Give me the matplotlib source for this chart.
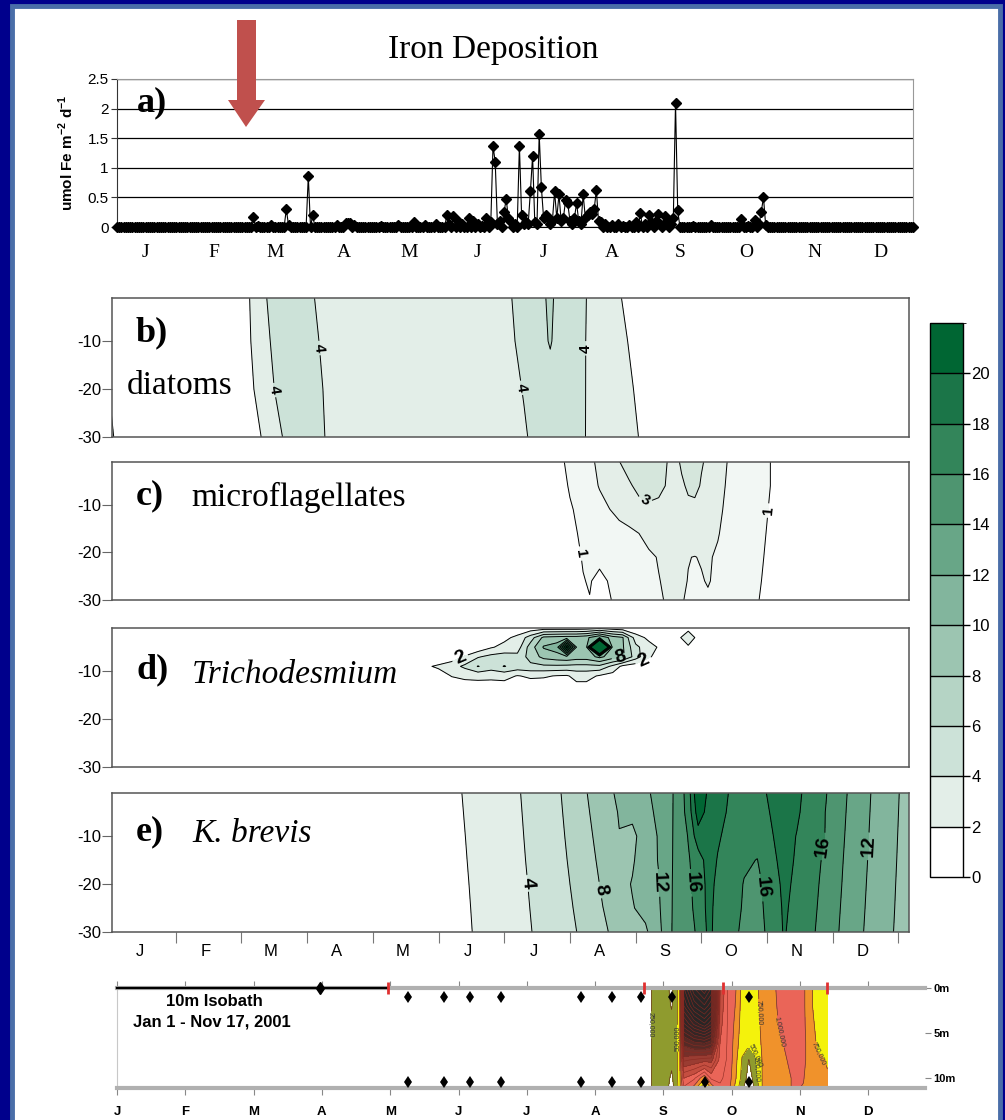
import numpy as np
import matplotlib
matplotlib.use("Agg")
import matplotlib.pyplot as plt
from matplotlib.patches import Rectangle, Polygon
from matplotlib.colors import ListedColormap, BoundaryNorm
from matplotlib.cm import ScalarMappable

plt.rcParams['font.family'] = ['Liberation Sans', 'DejaVu Sans']
plt.rcParams['mathtext.fontset'] = 'custom'
plt.rcParams['mathtext.rm'] = 'Liberation Sans'
plt.rcParams['mathtext.bf'] = 'Liberation Sans:bold'

# ---------------- data ----------------
MONTHS = ['J', 'F', 'M', 'A', 'M', 'J', 'J', 'A', 'S', 'O', 'N', 'D']
MONTH_START_DAY = [0, 31, 59, 90, 120, 151, 181, 212, 243, 273, 304, 334]
N_DAYS = 363

# panel a: iron deposition (day of year, umol Fe m-2 d-1); other days ~0
FE_EVENTS = [(62, 0.17), (64, 0.02), (70, 0.04), (77, 0.30), (78, 0.03), (87, 0.86), (89, 0.20),
             (100, 0.03), (104, 0.06), (105, 0.07), (106, 0.06), (108, 0.03), (120, 0.02),
             (128, 0.03), (135, 0.08), (140, 0.03), (145, 0.05), (150, 0.20), (151, 0.05),
             (153, 0.18), (155, 0.10), (157, 0.05), (160, 0.15), (162, 0.10), (164, 0.05),
             (166, 0.02), (168, 0.15), (170, 0.08), (171, 1.37), (172, 1.10), (173, 0.05),
             (174, 0.10), (176, 0.25), (177, 0.47), (178, 0.15), (179, 0.08), (181, 0.05),
             (183, 1.37), (184, 0.20), (185, 0.05), (186, 0.08), (187, 0.05), (188, 0.60),
             (189, 1.20), (190, 0.08), (191, 0.05), (192, 1.57), (193, 0.67), (194, 0.15),
             (195, 0.20), (196, 0.15), (197, 0.05), (198, 0.10), (199, 0.60), (200, 0.15),
             (201, 0.55), (202, 0.10), (203, 0.15), (204, 0.45), (205, 0.40), (206, 0.10),
             (207, 0.05), (208, 0.15), (209, 0.40), (210, 0.10), (211, 0.05), (212, 0.55),
             (213, 0.15), (214, 0.20), (215, 0.25), (216, 0.22), (217, 0.30), (218, 0.62),
             (219, 0.10), (220, 0.08), (222, 0.05), (225, 0.03), (228, 0.05), (230, 0.02),
             (233, 0.03), (236, 0.08), (238, 0.23), (240, 0.05), (242, 0.20), (243, 0.08),
             (245, 0.10), (246, 0.22), (247, 0.05), (249, 0.18), (250, 0.10), (252, 0.05),
             (253, 0.15), (254, 2.10), (255, 0.28), (262, 0.02), (270, 0.03), (284, 0.13),
             (287, 0.02), (290, 0.12), (292, 0.05), (293, 0.26), (294, 0.50), (295, 0.03)]

# colour scale (cells, colorbar)
CB_LEVELS = [0, 2, 4, 6, 8, 10, 12, 14, 16, 18, 20, 22]
CB_COLORS = ['#FFFFFF', '#E3EEE8', '#CCE2D8', '#B5D4C5', '#9CC5B1', '#82B59D', '#68A687',
             '#4E9570', '#33855A', '#1B7548', '#006633']

# panel b: diatoms, grid x in months, depth rows, values per column (-1, -10, -20, -30)
B_X = [0.0, 0.15, 1.0, 2.0, 2.3, 2.5, 2.7, 3.0, 3.3, 4.5, 5.8, 6.0, 6.3, 6.5, 6.7, 6.85,
       7.1, 7.4, 7.7, 8.1, 9.0, 12.2]
B_DEPTH = [-1, -10, -20, -30]
B_COLS = [[0, 0, 1.8, 2.6], [0, 0, 0.5, 1.0], [0, 0, 0, 0], [1.0, 1.0, 0.8, 0.5],
          [3.4, 3.1, 2.7, 2.0], [4.8, 4.4, 4.0, 3.5], [5.0, 4.9, 4.6, 4.3], [4.3, 4.6, 4.8, 4.9],
          [3.5, 3.6, 3.8, 3.9], [3.0, 3.0, 3.0, 3.0], [3.2, 3.2, 3.1, 3.0], [3.5, 3.4, 3.2, 3.0],
          [4.8, 4.5, 4.1, 3.8], [5.0, 5.0, 4.8, 4.5], [6.5, 6.2, 5.0, 4.8], [5.0, 5.0, 4.9, 4.8],
          [4.8, 4.7, 4.6, 4.5], [3.2, 3.2, 3.3, 3.4], [2.4, 2.8, 3.0, 3.2], [0.5, 1.0, 1.5, 1.8],
          [0, 0, 0, 0], [0, 0, 0, 0]]
B_LABELS = [(4, (2.51, -20.2)), (4, (3.14, -11.5)), (4, (6.23, -19.8)), (4, (7.25, -11.5))]

# panel c: microflagellates
C_X = [0, 6.8, 7.0, 7.2, 7.3, 7.45, 7.6, 7.75, 7.9, 8.05, 8.2, 8.35, 8.5, 8.6, 8.7, 8.8,
       8.9, 9.0, 9.1, 9.25, 9.4, 9.7, 9.95, 10.15, 12.2]
C_DEPTH = [-1, -6, -11, -16, -21, -26, -30]
C_ROWS = [
    [0, 0.6, 1.3, 1.6, 1.8, 2.2, 2.5, 2.98, 3.3, 3.4, 3.4, 3.3, 2.95, 2.8, 3.1, 3.3, 3.3, 3.05, 2.9, 2.5, 1.97, 1.5, 1.2, 0.8, 0],
    [0, 0.5, 1.1, 1.5, 1.7, 2.05, 2.4, 2.6, 2.9, 3.2, 3.3, 3.2, 2.9, 2.7, 2.9, 3.1, 3.15, 2.95, 2.7, 2.3, 1.9, 1.5, 1.15, 0.85, 0],
    [0, 0.4, 0.9, 1.3, 1.5, 1.75, 1.98, 2.25, 2.5, 2.75, 2.85, 2.8, 2.7, 2.65, 2.75, 2.85, 2.85, 2.7, 2.5, 2.2, 1.8, 1.45, 1.1, 0.8, 0],
    [0, 0.3, 0.8, 1.15, 1.3, 1.45, 1.6, 1.7, 1.8, 2.0, 2.3, 2.5, 2.55, 2.5, 2.45, 2.45, 2.5, 2.4, 2.3, 2.05, 1.75, 1.4, 1.05, 0.75, 0],
    [0, 0.2, 0.7, 1.05, 1.15, 1.2, 1.2, 1.4, 1.55, 1.7, 1.85, 2.05, 2.25, 2.2, 2.1, 2.02, 1.98, 2.05, 2.08, 1.9, 1.65, 1.35, 1.0, 0.7, 0],
    [0, 0.2, 0.6, 0.97, 1.05, 0.8, 1.05, 1.3, 1.5, 1.65, 1.8, 1.97, 2.15, 2.15, 2.1, 1.98, 1.8, 1.95, 2.05, 1.85, 1.6, 1.3, 0.95, 0.65, 0],
    [0, 0.2, 0.55, 0.9, 0.98, 0.7, 0.95, 1.2, 1.4, 1.55, 1.7, 1.9, 2.1, 2.15, 2.05, 1.9, 1.6, 1.7, 1.9, 1.75, 1.55, 1.25, 0.9, 0.6, 0],
]
C_LEVELS = [1, 2, 3, 100]
C_COLORS = ['#F2F7F4', '#E4EEE8', '#D5E6DC']
C_LABELS = [(3, (8.14, -9.2)), (1, (7.18, -20.2)), (1, (10.05, -11.25))]

# panel d: Trichodesmium
D_X = [0, 4.6, 4.8, 5.0, 5.2, 5.4, 5.6, 5.8, 6.0, 6.2, 6.4, 6.6, 6.8, 6.95, 7.1, 7.25,
       7.45, 7.65, 7.8, 8.0, 8.2, 8.4, 8.6, 8.8, 9.0, 12.2]
D_DEPTH = [-1, -3, -5, -7, -9, -11, -13, -30]
D_ROWS = [
    [0, 0, 0, 0, 0, 0, 0, 0, 0.3, 0.5, 0.7, 0.9, 0.9, 0.9, 0.9, 1.0, 1.5, 0.9, 0.6, 0.3, 0, 0, 0.5, 1.8, 0.5, 0],
    [0, 0, 0, 0, 0, 0, 0, 0.5, 1.5, 2.5, 5, 8.5, 8.8, 9, 9, 9.5, 12, 9, 8.2, 3, 1.5, 0.5, 1.7, 2.4, 1.6, 0],
    [0, 0, 0, 0, 0, 0, 0.5, 1.8, 2.6, 3.0, 7, 10.2, 11, 21, 10, 9.5, 40, 9, 8.3, 4.5, 2.8, 1.5, 0.5, 1.9, 0.5, 0],
    [0, 0, 0, 0, 0.8, 2.2, 3.8, 4.6, 4.9, 4.6, 6.8, 8.6, 9.2, 9.5, 9, 9, 10.5, 9, 8.5, 5, 2.2, 1.2, 0, 0, 0, 0],
    [0, 0, 1.6, 2.4, 3.2, 4.4, 6.1, 5.0, 6.1, 5.2, 5.5, 5.6, 5.6, 5.5, 5.4, 5.4, 5.5, 3.5, 1.5, 0.8, 0.3, 0, 0, 0, 0, 0],
    [0, 0, 0, 0.8, 2.1, 2.5, 2.6, 2.5, 2.6, 1.9, 2.3, 2.2, 1.9, 1.8, 2.6, 2.6, 1.8, 1.2, 0.5, 0, 0, 0, 0, 0, 0, 0],
    [0, 0, 0, 0, 0.8, 1.2, 1.3, 1.3, 1.4, 1, 1.2, 1.2, 1, 1, 1.6, 1.6, 1, 0.5, 0, 0, 0, 0, 0, 0, 0, 0],
    [0] * 26,
]
D_LABELS = [(2, (5.33, -7.3)), (8, (7.76, -6.7)), (2, (8.1, -7.3))]

# panel e: K. brevis
E_X = [0, 5.0, 5.6, 6.2, 6.8, 7.2, 7.5, 7.75, 7.95, 8.15, 8.35, 8.5, 8.65, 8.8, 8.95, 9.1,
       9.25, 9.45, 9.65, 9.85, 10.05, 10.25, 10.45, 10.65, 10.9, 11.15, 11.4, 11.65, 11.9, 12.2]
E_DEPTH = [-1, -5, -10, -15, -20, -25, -30]
E_ROWS = [
    [0, 1.13, 2.60, 3.85, 5.68, 7.67, 9.26, 10.36, 11.02, 11.67, 12.57, 13.43, 14.67, 17.0, 21.9, 19.7, 18.82, 17.8, 17.16, 17.52, 18.21, 18.93, 18.36, 17.44, 16.06, 14.4, 12.94, 11.63, 10.47, 9.2],
    [0, 1.06, 2.55, 3.79, 5.58, 7.48, 9.05, 10.11, 10.3, 11.40, 12.40, 13.46, 14.66, 16.78, 21.0, 19.42, 18.66, 17.63, 16.94, 17.22, 18.05, 18.81, 18.25, 17.29, 15.92, 14.30, 12.85, 11.57, 10.42, 9.17],
    [0, 0.96, 2.49, 3.72, 5.46, 7.25, 8.78, 9.95, 9.7, 10.6, 12.19, 13.5, 14.66, 16.1, 19.2, 19.27, 18.2, 17.42, 16.67, 16.8, 17.8, 18.67, 17.95, 17.11, 15.9, 14.18, 12.75, 11.49, 10.35, 9.14],
    [0, 0.87, 2.43, 3.65, 5.34, 7.02, 8.52, 9.3, 9.8, 11.0, 12.1, 13.54, 14.65, 15.8, 17.0, 18.8, 17.9, 17.21, 16.3, 15.95, 17.5, 18.5, 17.85, 16.94, 15.58, 14.05, 12.64, 11.41, 10.29, 9.1],
    [0, 0.78, 2.36, 3.57, 5.21, 6.79, 8.25, 9.4, 10.1, 10.9, 11.9, 13.6, 14.64, 15.6, 16.8, 18.5, 17.7, 17.0, 15.9, 15.5, 16.9, 18.38, 17.7, 16.76, 15.4, 13.93, 12.53, 11.33, 10.22, 9.07],
    [0, 0.68, 2.30, 3.50, 5.09, 6.56, 7.98, 8.86, 9.9, 10.5, 11.7, 13.63, 14.63, 15.5, 16.6, 18.5, 17.5, 16.76, 15.8, 15.4, 16.7, 18.2, 17.65, 16.62, 15.23, 13.80, 12.43, 11.25, 10.16, 9.03],
    [0, 0.59, 2.24, 3.43, 4.97, 6.33, 7.72, 8.55, 9.13, 9.71, 11.33, 13.67, 14.63, 15.37, 16.27, 18.3, 17.63, 16.58, 15.59, 15.33, 16.48, 18.1, 17.6, 16.46, 15.06, 13.68, 12.32, 11.17, 10.09, 9.0],
]
E_LABELS = [(4, (6.39, -19.8)), (8, (7.46, -21.25)), (12, (8.30, -19.8)), (16, (8.78, -19.8)),
            (16, (9.84, -20.8)), (16, (10.83, -12.1)), (12, (11.52, -12.1))]

# bottom strip: 10 m isobath K. brevis (thousand cells / L), x in months, depth m
S_X = [7.7, 7.83, 7.95, 8.05, 8.12, 8.2, 8.24, 8.3, 8.45, 8.6, 8.7, 8.83, 8.95, 9.05, 9.15,
       9.25, 9.35, 9.45, 9.6, 9.72, 9.9, 10.05, 10.15, 10.25, 10.4]
S_DEPTH = [0, 2, 4, 6, 8, 10, 11.1]
S_COLS = [
    [0, 0, 0, 0, 0, 0, 0],
    [260, 260, 260, 260, 260, 260, 260],
    [380, 380, 380, 380, 380, 380, 380],
    [300, 330, 380, 380, 380, 330, 300],
    [180, 230, 330, 350, 320, 200, 150],
    [450, 460, 470, 480, 470, 450, 420],
    [700, 700, 700, 700, 700, 700, 700],
    [5500, 5000, 4200, 3200, 2300, 1500, 1200],
    [6500, 5800, 4800, 3500, 2200, 1300, 900],
    [7000, 6200, 5200, 3600, 2100, 800, 200],
    [6500, 5800, 4800, 3400, 2100, 1300, 800],
    [1800, 1700, 1600, 1500, 1400, 1300, 1200],
    [1200, 1200, 1200, 1200, 1200, 1150, 1100],
    [1050, 1000, 950, 900, 850, 800, 700],
    [680, 660, 640, 600, 480, 420, 300],
    [650, 640, 620, 580, 240, 150, 100],
    [700, 700, 680, 650, 450, 350, 300],
    [820, 800, 790, 780, 770, 770, 770],
    [950, 940, 900, 880, 850, 850, 850],
    [1080, 1060, 1040, 980, 950, 900, 900],
    [1150, 1150, 1150, 1100, 1050, 1020, 1020],
    [1050, 1050, 1050, 1050, 1050, 1010, 990],
    [800, 800, 850, 900, 900, 900, 900],
    [650, 650, 680, 720, 780, 800, 800],
    [600, 600, 620, 650, 740, 760, 760],
]
S_LEVELS = [250, 500, 750, 1000, 1500, 2000, 2500, 3000, 3500, 4000, 5000, 10000]
S_COLORS = ['#8F9B2E', '#F4F20C', '#F0922B', '#EA6558', '#C44E40', '#9A3C32', '#74302A',
            '#552A26', '#402624', '#332626', '#282626']
S_LABELS = [(250, (7.85, 4.1), '250,000'), (500, (8.2, 5.6), '500,000'),
            (750, (9.46, 2.7), '750,000'), (1000, (9.68, 4.9), '1,000,000'),
            (750, (10.04, 8.9), '750,000'), (500, (10.19, 3.0), '500,000'),
            (500, (9.31, 8.9), '500,000')]
S_SAMPLES_TOP = [4.26, 4.79, 5.17, 5.62, 6.79, 7.25, 7.67, 8.13, 9.25]
S_SAMPLES_BOTTOM = [4.26, 4.79, 5.17, 5.62, 6.79, 7.25, 7.67, 8.61, 9.25]
S_RED_MARKS = [3.97, 7.72, 8.87, 10.4]

# ---------------- figure ----------------
W, H = 1005, 1120
fig = plt.figure(figsize=(W / 100, H / 100), dpi=100, facecolor='#00008c')


def fx(x):
    return x / W


def fy(y):
    return 1 - y / H


def px_axes(x0, y0, x1, y1):
    return fig.add_axes([x0 / W, 1 - y1 / H, (x1 - x0) / W, (y1 - y0) / H])


fig.patches.append(Rectangle((fx(12), fy(1130)), (1000 - 12) / W, (1130 - 6) / H,
                             transform=fig.transFigure, facecolor='white',
                             edgecolor='#4a6ea8', linewidth=3.5, zorder=-10))

SERIF = ['Liberation Serif', 'DejaVu Serif']

# ---- panel a ----
fe = np.zeros(N_DAYS)
for d, v in FE_EVENTS:
    fe[d] = v
axa = px_axes(117, 79, 913, 227)
axa.plot(np.arange(N_DAYS), fe, color='black', lw=0.8, marker='D', markersize=4.8,
         clip_on=False, zorder=3)
axa.set_xlim(0, N_DAYS - 1)
axa.set_ylim(0, 2.5)
axa.set_yticks([0, 0.5, 1, 1.5, 2, 2.5])
axa.set_yticklabels(['0', '0.5', '1', '1.5', '2', '2.5'], fontsize=11)
axa.yaxis.grid(True, color='black', lw=0.9)
axa.set_axisbelow(True)
axa.set_xticks([d + 13 for d in MONTH_START_DAY])
axa.set_xticklabels(MONTHS, fontsize=14, family=SERIF)
axa.tick_params(axis='x', length=0, pad=12)
axa.tick_params(axis='y', length=4, direction='out', color='#333', pad=2)
axa.spines['top'].set_color('#999')
axa.spines['right'].set_color('#999')
axa.spines['left'].set_color('#333')
axa.spines['bottom'].set_color('black')
fig.text(fx(66), fy(153), r'umol Fe m$^{\mathbf{-2}}$ d$^{\mathbf{-1}}$', rotation=90,
         ha='center', va='center', fontsize=11, fontweight='bold')
fig.text(fx(493), fy(50), 'Iron Deposition', ha='center', va='center', fontsize=24, family=SERIF)
fig.text(fx(137), fy(103), 'a)', ha='left', va='center', fontsize=26, fontweight='bold', family=SERIF)

# red arrow
arrow = Polygon([(fx(237), fy(20)), (fx(256), fy(20)), (fx(256), fy(100)), (fx(265), fy(100)),
                 (fx(246), fy(127)), (fx(228), fy(100)), (fx(237), fy(100))],
                closed=True, transform=fig.transFigure, facecolor='#C0504D', edgecolor='none')
fig.patches.append(arrow)


# ---- contour panels ----
def depth_axes(y0, y1):
    ax = px_axes(112, y0, 909, y1)
    ax.set_xlim(0.03, 12.16)
    ax.set_ylim(-30, -1)
    ax.set_yticks([-10, -20, -30])
    ax.set_yticklabels(['-10', '-20', '-30'], fontsize=12)
    ax.tick_params(axis='y', direction='out', length=7, color='#666', pad=1)
    ax.set_xticks([])
    for s in ax.spines.values():
        s.set_color('#555')
        s.set_linewidth(1.1)
    return ax


def draw_field(ax, x, y, z, fill_levels, fill_colors, line_levels, labels, fs):
    z = np.asarray(z, dtype=float)
    ax.contourf(x, y, z, levels=fill_levels, colors=fill_colors)
    for lv in line_levels:
        if z.min() < lv < z.max():
            cs = ax.contour(x, y, z, levels=[lv], colors='black', linewidths=0.7)
            pos = [p for l, p in labels if l == lv]
            if pos:
                txts = ax.clabel(cs, manual=pos, fmt='%d', fontsize=fs, inline=True,
                                 inline_spacing=3)
                for t in txts:
                    t.set_fontweight('bold')


FILL_LEVELS = CB_LEVELS[1:-1] + [1000]
LINE_LEVELS = CB_LEVELS[1:-1]

axb = depth_axes(298, 437)
draw_field(axb, B_X, B_DEPTH, np.array(B_COLS).T, FILL_LEVELS, CB_COLORS[1:], LINE_LEVELS, B_LABELS, 11)

axc = depth_axes(462, 600)
draw_field(axc, C_X, C_DEPTH, C_ROWS, C_LEVELS, C_COLORS, C_LEVELS[:-1], C_LABELS, 11)

axd = depth_axes(628, 767)
draw_field(axd, D_X, D_DEPTH, D_ROWS, FILL_LEVELS, CB_COLORS[1:], LINE_LEVELS, D_LABELS, 14)

axe = depth_axes(793, 932)
draw_field(axe, E_X, E_DEPTH, E_ROWS, FILL_LEVELS, CB_COLORS[1:], LINE_LEVELS, E_LABELS, 14)
axe.set_xticks(range(1, 13))
axe.set_xticklabels([])
axe.tick_params(axis='x', which='major', direction='out', length=8, color='#777')
axe.set_xticks([i + 0.45 for i in range(12)], minor=True)
axe.set_xticklabels(MONTHS, minor=True, fontsize=12)
axe.tick_params(axis='x', which='minor', length=0, pad=9)

# panel captions
fig.text(fx(136), fy(333), 'b)', ha='left', va='center', fontsize=26, fontweight='bold', family=SERIF)
fig.text(fx(127), fy(386), 'diatoms', ha='left', va='center', fontsize=24, family=SERIF)
fig.text(fx(136), fy(496), 'c)', ha='left', va='center', fontsize=26, fontweight='bold', family=SERIF)
fig.text(fx(191), fy(497), 'microflagellates', ha='left', va='center', fontsize=24, family=SERIF)
fig.text(fx(136), fy(670), 'd)', ha='left', va='center', fontsize=26, fontweight='bold', family=SERIF)
fig.text(fx(192), fy(675), 'Trichodesmium', ha='left', va='center', fontsize=24, style='italic', family=SERIF)
fig.text(fx(136), fy(832), 'e)', ha='left', va='center', fontsize=26, fontweight='bold', family=SERIF)
fig.text(fx(192), fy(834), 'K. brevis', ha='left', va='center', fontsize=24, style='italic', family=SERIF)

# colorbar
cax = px_axes(930, 323, 963, 877)
cmap = ListedColormap(CB_COLORS)
norm = BoundaryNorm(CB_LEVELS, cmap.N)
cb = fig.colorbar(ScalarMappable(norm=norm, cmap=cmap), cax=cax, ticks=list(range(0, 21, 2)),
                  drawedges=True)
cb.ax.tick_params(labelsize=12, length=5, direction='out', width=1, pad=1)
cb.outline.set_linewidth(1.0)
cb.dividers.set_linewidth(1.0)

# ---- bottom strip ----
sax = px_axes(117, 988, 925, 1088)
sax.set_xlim(0, 11.83)
sax.set_ylim(11.1, 0)
S_Z = np.array(S_COLS, dtype=float).T
sax.contourf(S_X, S_DEPTH, S_Z, levels=S_LEVELS, colors=S_COLORS)
sax.contour(S_X, S_DEPTH, S_Z, levels=list(range(1250, 7000, 250)), colors='#8a2a22', linewidths=0.4)
for lv in [250, 500, 750, 1000]:
    cs = sax.contour(S_X, S_DEPTH, S_Z, levels=[lv], colors='#6b3a20', linewidths=0.5)
    pos = [p for l, p, _ in S_LABELS if l == lv]
    txt = [t for l, _, t in S_LABELS if l == lv][0]
    if pos:
        sax.clabel(cs, manual=pos, fmt={lv: txt}, fontsize=5, inline=True, inline_spacing=1,
                   colors='#333')
sax.plot([0, S_RED_MARKS[0]], [0, 0], color='black', lw=1.6, clip_on=False, zorder=4)
sax.plot([2.97], [0], marker='d', color='black', markersize=6, clip_on=False, zorder=5)
sax.plot(S_SAMPLES_TOP, [1.0] * len(S_SAMPLES_TOP), linestyle='none', marker='d',
         color='black', markersize=6, markeredgewidth=0, zorder=5)
sax.plot(S_SAMPLES_BOTTOM, [10.4] * len(S_SAMPLES_BOTTOM), linestyle='none', marker='d',
         color='black', markersize=6, markeredgewidth=0, zorder=5)
sax.plot(S_RED_MARKS, [0] * len(S_RED_MARKS), linestyle='none', marker='|', color='#e03030',
         markersize=8, markeredgewidth=2, clip_on=False, zorder=6)
sax.spines['top'].set_color('#b0b0b0')
sax.spines['top'].set_linewidth(3)
sax.spines['bottom'].set_color('#b0b0b0')
sax.spines['bottom'].set_linewidth(3)
sax.spines['left'].set_color('#c8c8c8')
sax.spines['right'].set_visible(False)
sax.set_xticks(range(12))
sax.set_xticklabels(MONTHS, fontsize=9.5, fontweight='bold')
sax.tick_params(axis='x', top=True, bottom=True, direction='out', length=5, color='#888', pad=8)
sax.yaxis.tick_right()
sax.set_yticks([0, 5, 10])
sax.set_yticklabels(['0m', '5m', '10m'], fontsize=8, fontweight='bold')
sax.tick_params(axis='y', direction='out', length=4, color='#888', pad=2)
fig.text(fx(214), fy(1001), '10m Isobath', ha='center', va='center', fontsize=12, fontweight='bold')
fig.text(fx(212), fy(1022), 'Jan 1 - Nov 17, 2001', ha='center', va='center', fontsize=12, fontweight='bold')

fig.savefig('out.png', dpi=100, facecolor=fig.get_facecolor())
